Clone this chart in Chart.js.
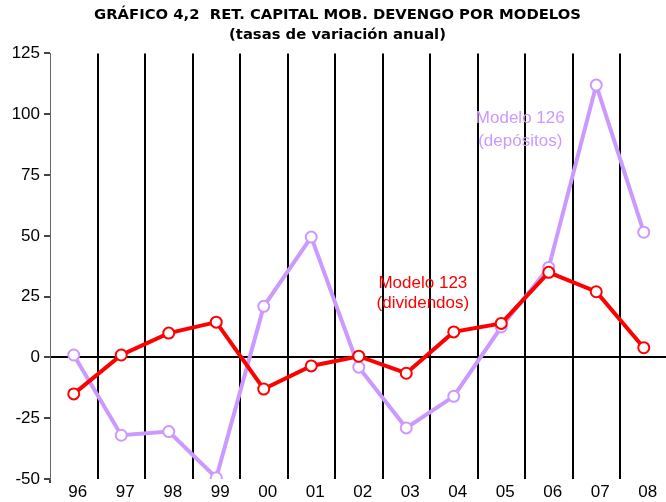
<!DOCTYPE html>
<html>
<head>
<meta charset="utf-8">
<script src="https://cdn.jsdelivr.net/npm/chart.js@4"></script>
<style>
  html, body { margin: 0; padding: 0; background: #fff; overflow: hidden; }
  #wrap { width: 675px; height: 502px; }
</style>
</head>
<body>
<div id="wrap"><canvas id="myChart"></canvas></div>
<script>
const years = ["96", "97", "98", "99", "00", "01", "02", "03", "04", "05", "06", "07", "08"];
const modelo123 = [-15, 1, 10, 14.5, -13, -3.5, 0.5, -6.5, 10.5, 14, 35, 27, 4];
const modelo126 = [1, -32, -30.5, -49.5, 21, 49.5, -4, -29, -16, 12.5, 37, 112, 51.5];
const yTicks = [-50, -25, 0, 25, 50, 75, 100, 125];

const red = "#ff0000";
const lilac = "#cc99ff";
const arial = "'Liberation Sans', Arial, sans-serif";

// etiquetas de las series, ancladas a las escalas
const seriesLabels = {
  id: "seriesLabels",
  afterDatasetsDraw(chart) {
    const { ctx, scales: { x, y } } = chart;
    const notes = [
      { lines: ["Modelo 123", "(dividendos)"], at: 7.35, vals: [30.5, 22.3], color: red },
      { lines: ["Modelo 126", "(depósitos)"], at: 9.4, vals: [98.5, 88.8], color: lilac },
    ];
    ctx.save();
    ctx.font = "17px " + arial;
    ctx.textAlign = "center";
    ctx.textBaseline = "middle";
    notes.forEach(n => {
      ctx.fillStyle = n.color;
      const px = x.left + (n.at + 0.5) * (x.width / years.length);
      n.lines.forEach((t, i) => ctx.fillText(t, px, y.getPixelForValue(n.vals[i])));
    });
    ctx.restore();
  },
};

const ctx = document.getElementById("myChart");

new Chart(ctx, {
  type: "line",
  data: {
    labels: years,
    datasets: [
      {
        label: "Modelo 123 (dividendos)",
        data: modelo123,
        borderColor: red,
        borderWidth: 4,
        pointRadius: 5.5,
        pointBorderWidth: 2,
        pointBackgroundColor: "#fff",
        pointBorderColor: red,
        tension: 0,
      },
      {
        label: "Modelo 126 (depósitos)",
        data: modelo126,
        borderColor: lilac,
        borderWidth: 4,
        pointRadius: 5.5,
        pointBorderWidth: 2,
        pointBackgroundColor: "#fff",
        pointBorderColor: lilac,
        tension: 0,
      },
    ],
  },
  options: {
    responsive: true,
    maintainAspectRatio: false,
    animation: false,
    layout: { padding: 0 },
    plugins: {
      legend: { display: false },
      tooltip: { enabled: false },
      title: {
        display: true,
        text: ["GRÁFICO 4,2  RET. CAPITAL MOB. DEVENGO POR MODELOS", "(tasas de variación anual)"],
        color: "#000",
        font: { family: "'DejaVu Sans', Verdana, sans-serif", size: 14.8, weight: "bold", lineHeight: 1.3 },
        padding: { top: 6, bottom: 9 },
      },
    },
    scales: {
      x: {
        offset: true,
        grid: {
          offset: true,
          color: c => (c.index === 0 ? "transparent" : "#000"),
          lineWidth: 2,
          tickColor: c => (c.index === 0 ? "#444" : "transparent"),
          tickLength: 4,
        },
        border: { display: false },
        ticks: {
          color: "#000",
          padding: 1,
          labelOffset: 4,
          maxRotation: 0,
          autoSkip: false,
          font: { family: arial, size: 17, lineHeight: 1 },
        },
      },
      y: {
        min: -50,
        max: 125,
        afterBuildTicks: axis => { axis.ticks = yTicks.map(v => ({ value: v })); },
        afterFit: axis => { axis.width = 50; },
        grid: {
          color: c => (c.tick && c.tick.value === 0 ? "#000" : "transparent"),
          lineWidth: 2,
          tickColor: "#444",
          tickLength: 6,
        },
        border: { color: "#666", width: 1 },
        ticks: {
          color: "#000",
          padding: 4,
          font: { family: arial, size: 17 },
        },
      },
    },
  },
  plugins: [seriesLabels],
});
</script>
</body>
</html>
